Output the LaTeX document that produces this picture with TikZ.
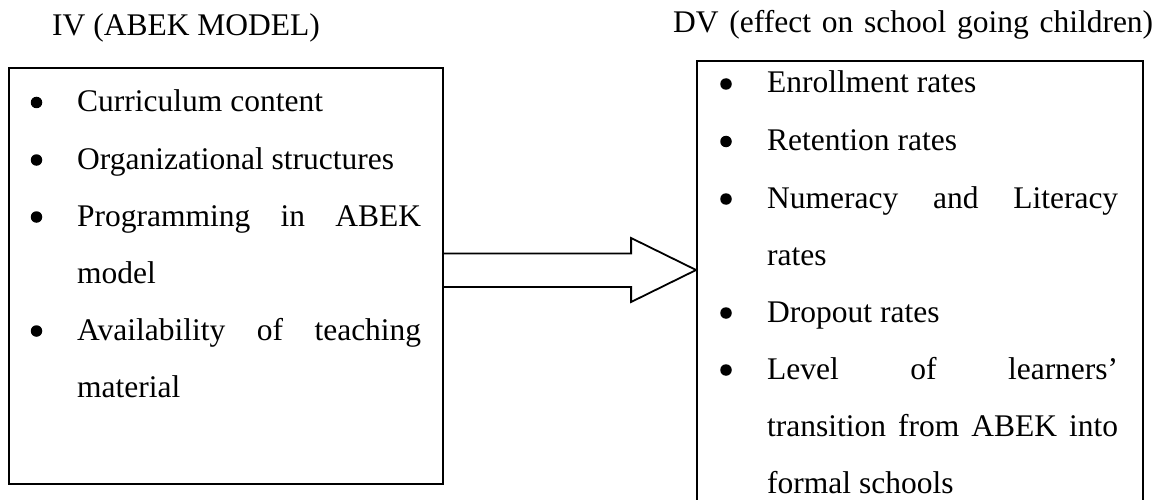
\documentclass[tikz,border=0pt]{standalone}
\usepackage{fontspec}
\setmainfont{Liberation Serif}
\usetikzlibrary{calc}
\begin{document}
\begin{tikzpicture}[x=1pt,y=-1pt,
  box/.style={draw, line width=1.8pt, inner sep=0pt, minimum width=#1},
  txt/.style={anchor=base west, inner sep=0pt, font=\fontsize{31.5}{40}\selectfont},
  bul/.style={circle, fill, inner sep=0pt, minimum size=11.5pt, yshift=9pt},
  arrowline/.style={draw, line width=1.8pt, line join=miter}]
\useasboundingbox (0,0) rectangle (1156,500);
% boxes
\node[box=434pt, minimum height=416pt] (ivbox) at (226,276) {};
\node[box=446pt, minimum height=449pt] (dvbox) at (920,285.5) {};
% headings
\node[txt] (ivhead) at (52,36) {IV (ABEK MODEL)};
\node[txt] (dvhead) at (673,33) {\hbox to 480pt{DV\hfill (effect\hfill on\hfill school\hfill going\hfill children)}};
% left items
\node[bul] (lb1) at (36.5,111.5) {};
\node[txt] (l1) at (77,111.5) {Curriculum content};
\node[bul] (lb2) at (36.5,169) {};
\node[txt] (l2) at (77,169) {Organizational structures};
\node[bul] (lb3) at (36.5,226) {};
\node[txt] (l3) at (77,226) {\hbox to 344pt{Programming\hfill in\hfill ABEK}};
\node[txt] (l4) at (77,283) {model};
\node[bul] (lb5) at (36.5,340) {};
\node[txt] (l5) at (77,340) {\hbox to 344pt{Availability\hfill of\hfill teaching}};
\node[txt] (l6) at (77,397) {material};
% right items
\node[bul] (rb1) at (726,93) {};
\node[txt] (r1) at (767,93) {Enrollment rates};
\node[bul] (rb2) at (726,150.5) {};
\node[txt] (r2) at (767,150.5) {Retention rates};
\node[bul] (rb3) at (726,208) {};
\node[txt] (r3) at (767,208) {\hbox to 351pt{Numeracy\hfill and\hfill Literacy}};
\node[txt] (r4) at (767,265) {rates};
\node[bul] (rb5) at (726,322) {};
\node[txt] (r5) at (767,322) {Dropout rates};
\node[bul] (rb6) at (726,379) {};
\node[txt] (r6) at (767,379) {\hbox to 351pt{Level\hfill of\hfill learners’}};
\node[txt] (r7) at (767,436) {\hbox to 351pt{transition\hfill from\hfill ABEK\hfill into}};
\node[txt] (r8) at (767,493) {formal schools};
% block arrow
\coordinate (tip) at (dvbox.west |- 0,270);
\coordinate (base) at (ivbox.east |- 0,270);
\draw[arrowline] ($(base)+(0,-16.5)$) -- ($(tip)+(-65,-16.5)$) -- ($(tip)+(-65,-32)$) -- (tip)
  -- ($(tip)+(-65,32)$) -- ($(tip)+(-65,17)$) -- ($(base)+(0,17)$);
\end{tikzpicture}
\end{document}
